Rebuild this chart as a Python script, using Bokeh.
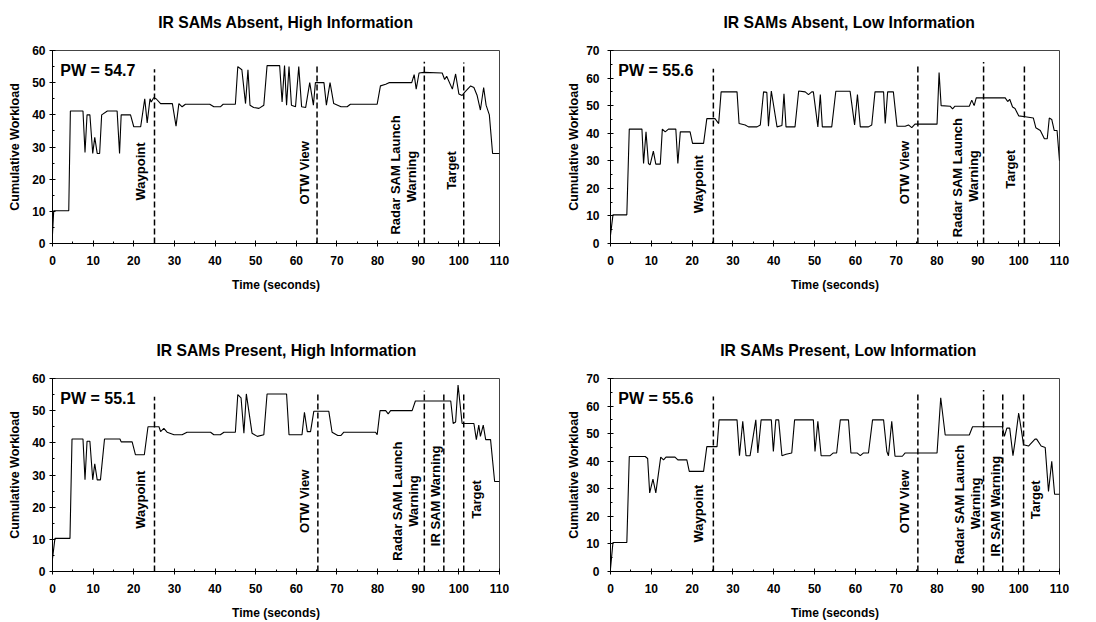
import math
from bokeh.plotting import figure
from bokeh.models import Range1d, SingleIntervalTicker, Label, Title
from bokeh.layouts import column, row
from bokeh.embed import file_html
from bokeh.resources import INLINE
from bokeh.core.properties import value

FONT = "Liberation Sans"

# ---------------- data ----------------
titles = ["IR SAMs Absent, High Information", "IR SAMs Absent, Low Information",
          "IR SAMs Present, High Information", "IR SAMs Present, Low Information"]
pw_texts = ["PW = 54.7", "PW = 55.6", "PW = 55.1", "PW = 55.6"]
y_max = [60, 70, 60, 70]

t1 = [0, 0.3, 4.0, 4.4, 7.5, 8.0, 8.5, 9.2, 9.9, 10.4, 11.0, 11.6, 12.1, 13.5, 15.9, 16.5, 16.9, 19.2, 20.0, 21.7,
      22.7, 23.3, 24.0, 24.3, 24.9, 25.5, 26.6, 29.5, 30.4, 31.1, 31.9, 32.7, 38.7, 39.7, 41.3, 42.0, 45.0, 45.6,
      46.6, 47.5, 48.1, 48.6, 49.5, 50.8, 52.0, 52.8, 55.9, 56.5, 57.1, 57.6, 58.2, 58.8, 59.8, 60.6, 61.3, 62.3,
      63.3, 64.2, 64.7, 66.8, 67.4, 68.3, 69.2, 71.0, 72.5, 73.3, 79.9, 80.7, 82.0, 82.8, 88.4, 89.0, 89.5, 90.2,
      91.4, 95.9, 96.5, 97.0, 98.4, 99.2, 100.0, 100.8, 101.4, 102.9, 103.7, 104.5, 105.3, 106.1, 106.7, 107.5,
      108.3, 110]
w1 = [3, 10.2, 10.2, 41.2, 41.2, 28.3, 40, 40, 28, 33, 28, 28, 40, 41.2, 41.2, 28, 40, 40, 36.3, 36.3,
      45, 37.5, 45, 44, 45.3, 45, 43.5, 43.5, 36.5, 43.5, 42.5, 43.3, 43.3, 42.5, 42.5, 43.3, 43.3, 55,
      54, 43.5, 54, 43, 42.3, 42, 43, 55.3, 55.3, 44, 55.3, 43, 55, 43, 42.5, 55, 42.5, 42.3,
      50, 43, 50, 50, 43, 50, 43.5, 42.5, 42.5, 43.3, 43.3, 49, 49.5, 50, 50, 52.5, 48, 53,
      53.2, 53, 51, 52, 48, 52.7, 46.5, 46, 47, 49, 48.5, 46, 41.5, 48.5, 43, 40,
      28, 28]

t2 = [0, 0.6, 4.0, 4.6, 7.7, 8.1, 8.7, 9.3, 9.7, 10.5, 11.1, 12.2, 12.7, 13.4, 14.2, 16.0, 16.5, 17.1, 19.5, 20.1,
      22.8, 23.6, 25.6, 26.5, 27.1, 31.0, 31.5, 33.0, 33.8, 35.9, 36.7, 37.5, 38.3, 38.7, 39.4, 40.8, 42.0, 42.5,
      43.0, 45.2, 46.1, 47.7, 48.5, 49.3, 49.7, 50.8, 51.4, 51.9, 54.2, 55.2, 58.7, 59.8, 60.5, 61.2, 63.2, 64.0,
      64.8, 66.9, 67.3, 67.9, 69.3, 70.2, 72.2, 73.0, 73.8, 74.6, 80.0, 80.5, 81.0, 83.2, 83.8, 84.4, 87.9, 88.5,
      89.1, 89.6, 96.7, 97.3, 97.8, 98.5, 99.1, 100.0, 101.6, 103.6, 104.2, 105.3, 106.3, 107.0, 107.5, 108.1,
      108.7, 109.4, 110]
w2 = [3, 10.4, 10.4, 41.5, 41.5, 29, 40.5, 29, 28.5, 33.5, 28.8, 28.8, 41.5, 40.5, 41.5, 41.5, 29, 40.5, 40.5, 36.3,
      36.3, 45.3, 45.3, 43.5, 55, 55, 43.5, 43, 42.3, 42.3, 43, 55, 54.8, 42.5, 55.3, 42.3, 42.8, 54.3,
      42.3, 42.3, 55.3, 55, 54, 55, 55, 42.3, 54, 42.3, 42.3, 55.2, 55.2, 43, 54, 42.3, 42.3, 43,
      55, 55, 43.5, 55, 55, 42.5, 42.5, 43, 42, 43.3, 43.3, 62, 50, 49.8, 48.8, 49.8, 49.8, 52,
      50, 52.8, 52.8, 51.5, 52.3, 49.5, 49, 46.3, 46, 45.5, 42, 41, 38, 38, 45.5, 45,
      41, 41, 30]

t3 = [0, 0.6, 4.3, 4.8, 7.5, 8.0, 8.5, 9.2, 9.9, 10.4, 11.0, 11.8, 12.8, 16.6, 16.9, 19.6, 20.4, 22.6, 23.5, 26.2,
      26.6, 27.4, 28.2, 29.9, 31.9, 33.1, 38.9, 39.7, 41.3, 42.2, 45.0, 45.6, 46.4, 47.1, 47.7, 49.1, 50.4, 52.0,
      52.8, 57.6, 58.2, 61.4, 62.0, 62.7, 63.5, 64.3, 68.0, 68.8, 70.2, 71.0, 71.7, 79.5, 79.9, 80.6, 82.0, 82.6,
      83.2, 88.5, 89.3, 98.0, 98.6, 99.2, 99.8, 100.8, 103.7, 104.3, 104.9, 105.3, 106.0, 106.6, 107.8, 108.8, 110]
w3 = [4, 10.3, 10.3, 41.2, 41.2, 28.5, 40.5, 40.5, 28.5, 33.5, 28.5, 28.5, 41.2, 41.2, 40.3, 40.3, 36.3, 36.3, 45, 45,
      43.5, 44.5, 43.3, 42.5, 42.5, 43.3, 43.3, 42.5, 42.5, 43.3, 43.3, 55, 54, 43, 55.2, 43, 42, 42.5,
      55.2, 55.2, 42.5, 42.5, 49.5, 43.5, 43.5, 49.8, 49.8, 43.3, 42.3, 42.3, 43.3, 43.3, 42.5, 50, 50, 49,
      50, 50, 53, 53, 46, 46.5, 58, 46, 46, 41, 45.5, 42, 45.5, 41, 41, 28, 28]

t4 = [0, 0.6, 4.0, 4.6, 8.5, 9.1, 9.6, 10.4, 11.1, 12.3, 13.0, 13.6, 15.8, 16.5, 18.7, 19.3, 22.8, 23.6, 26.1, 26.6,
      31.0, 31.6, 32.4, 33.2, 34.2, 35.6, 36.1, 36.9, 39.4, 39.9, 40.5, 41.2, 42.0, 43.0, 44.4, 45.1, 49.7, 50.1,
      50.8, 51.6, 53.8, 54.6, 55.4, 56.3, 58.3, 58.9, 60.4, 61.2, 62.0, 63.2, 64.2, 66.9, 67.7, 68.1, 68.9, 69.7,
      71.5, 72.2, 80.0, 80.9, 82.0, 87.9, 88.7, 96.0, 96.5, 97.1, 97.8, 98.6, 99.1, 100.0, 101.2, 102.4, 104.0,
      104.4, 105.5, 106.5, 107.3, 108.1, 108.8, 110]
w4 = [1, 10.5, 10.5, 41.7, 41.7, 41, 28.5, 33.5, 28.5, 41.5, 40.5, 41.5, 41.5, 40.5, 40.5, 36.3, 36.3, 45.3, 45.3, 55,
      55, 42, 54.5, 42, 42, 55, 43, 55, 55, 43.5, 55, 55, 42, 42.5, 43, 55, 55, 43.5,
      54.5, 42, 42, 43, 43, 55, 55, 43, 43, 42, 43, 43, 55, 55, 43.5, 42, 54.5, 41.8,
      41.8, 43, 43, 63, 49.5, 49.5, 52.5, 52.5, 49, 52, 52, 42, 47, 57.5, 46, 45.5, 48,
      48, 45.5, 45, 29, 40, 28, 28]

# event markers (time in seconds) and the top of each dashed line
ev1_t = [25.1, 65.1, 91.5, 101.2]
ev1_top = [54.2, 55.7, 56.5, 56.3]
ev2_t = [25.2, 75.3, 91.4, 101.4]
ev2_top = [63.4, 65.2, 65.8, 65.0]
ev3_t = [25.1, 65.3, 91.5, 96.3, 101.2]
ev3_top = [54.3, 55.6, 56.2, 55.6, 55.6]
ev4_t = [25.2, 75.3, 91.4, 96.1, 101.2]
ev4_top = [63.5, 65.0, 65.8, 65.0, 65.0]

# event label texts
lab1 = ["Waypoint", "OTW View", "Radar SAM Launch", "Warning", "Target"]
lab2 = ["Waypoint", "OTW View", "Radar SAM Launch", "Warning", "Target"]
lab3 = ["Waypoint", "OTW View", "Radar SAM Launch", "Warning", "IR SAM Warning", "Target"]
lab4 = ["Waypoint", "OTW View", "Radar SAM Launch", "Warning", "IR SAM Warning", "Target"]

# label placement (layout)
lab1_x = [21.7, 61.9, 84.4, 88.3, 98.1]
lab1_y = [22.4, 22.0, 21.3, 20.8, 22.7]
lab2_x = [21.6, 72.0, 85.1, 88.9, 97.9]
lab2_y = [21.5, 25.7, 23.9, 24.5, 26.9]
lab3_x = [21.7, 61.9, 84.8, 88.9, 94.3, 104.3]
lab3_y = [22.3, 21.8, 21.9, 21.9, 23.5, 22.4]
lab4_x = [21.6, 72.0, 85.4, 89.4, 94.2, 104.2]
lab4_y = [21.0, 25.4, 24.3, 24.7, 23.7, 26.0]

title_offsets = [105.7, 113.0, 104.0, 109.7]


def panel(title, t, w, ymax, pw, ev_t, ev_top, labs, lab_x, lab_y, col, rw, t_off):
    if rw == 0:
        height, mb_top, mb_bot, t_standoff = 311, 50, 68, 10
    else:
        height, mb_top, mb_bot, t_standoff = 311, 67, 50, 36
    if col == 0:
        mb_left, mb_right = 52, 49
        y_lab_sd, y_ttl_sd = 4, 7
    else:
        mb_left, mb_right = 62, 37
        y_lab_sd, y_ttl_sd = 8, 2
    p = figure(width=548, height=height, output_backend="svg", toolbar_location=None,
               x_range=Range1d(0, 110), y_range=Range1d(0, ymax),
               min_border_left=mb_left, min_border_right=mb_right,
               min_border_top=mb_top, min_border_bottom=mb_bot,
               x_axis_label="Time (seconds)", y_axis_label="Cumulative Workload")
    p.title = Title(text=title, align="left", offset=t_off, vertical_align="top",
                    standoff=t_standoff, text_font=FONT, text_font_style="bold",
                    text_font_size="15.7px", text_color="black")
    if rw == 0:
        # thin empty band between the frame and the title (keeps the title higher)
        p.add_layout(Title(text=" ", text_font_size="2px", standoff=9), "above")
    p.background_fill_color = "white"
    p.border_fill_color = "white"
    p.outline_line_color = "#444444"
    p.outline_line_width = 1
    p.xgrid.visible = False
    p.ygrid.visible = False
    p.xaxis.ticker = SingleIntervalTicker(interval=10, num_minor_ticks=2)
    p.yaxis.ticker = SingleIntervalTicker(interval=10, num_minor_ticks=2)
    for ax in (p.xaxis[0], p.yaxis[0]):
        ax.axis_line_color = "black"
        ax.axis_line_width = 1
        ax.major_tick_line_color = "black"
        ax.minor_tick_line_color = "black"
        ax.major_tick_in = 3
        ax.major_tick_out = 3
        ax.minor_tick_in = 2
        ax.minor_tick_out = 0
        ax.major_label_text_font = FONT
        ax.major_label_text_font_style = "bold"
        ax.major_label_text_font_size = "12px"
        ax.major_label_text_color = "black"
        ax.axis_label_text_font = FONT
        ax.axis_label_text_font_style = "bold"
        ax.axis_label_text_color = "black"
    p.xaxis.axis_label_text_font_size = "12px"
    p.yaxis.axis_label_text_font_size = "12.5px"
    p.xaxis.major_label_standoff = 9
    p.xaxis.axis_label_standoff = 10
    p.yaxis.major_label_standoff = y_lab_sd
    p.yaxis.axis_label_standoff = y_ttl_sd

    p.line(t, w, line_color="black", line_width=1.1)
    p.segment(x0=ev_t, y0=[0] * len(ev_t), x1=ev_t, y1=ev_top,
              line_color="black", line_width=1.5, line_dash="6 3")
    p.text(x=lab_x, y=lab_y, text=labs, angle=math.pi / 2,
           text_align="center", text_baseline="middle",
           text_font=value(FONT), text_font_style="bold",
           text_font_size="13px", text_color="black")
    p.add_layout(Label(x=1.9, y=ymax * 0.895, text=pw,
                       text_align="left", text_baseline="middle",
                       text_font=FONT, text_font_style="bold",
                       text_font_size="16px", text_color="black"))
    return p


p1 = panel(titles[0], t1, w1, y_max[0], pw_texts[0], ev1_t, ev1_top, lab1, lab1_x, lab1_y, 0, 0, title_offsets[0])
p2 = panel(titles[1], t2, w2, y_max[1], pw_texts[1], ev2_t, ev2_top, lab2, lab2_x, lab2_y, 1, 0, title_offsets[1])
p3 = panel(titles[2], t3, w3, y_max[2], pw_texts[2], ev3_t, ev3_top, lab3, lab3_x, lab3_y, 0, 1, title_offsets[2])
p4 = panel(titles[3], t4, w4, y_max[3], pw_texts[3], ev4_t, ev4_top, lab4, lab4_x, lab4_y, 1, 1, title_offsets[3])

layout = column(row(p1, p2), row(p3, p4))
open("out.html", "w").write(file_html(layout, INLINE))
